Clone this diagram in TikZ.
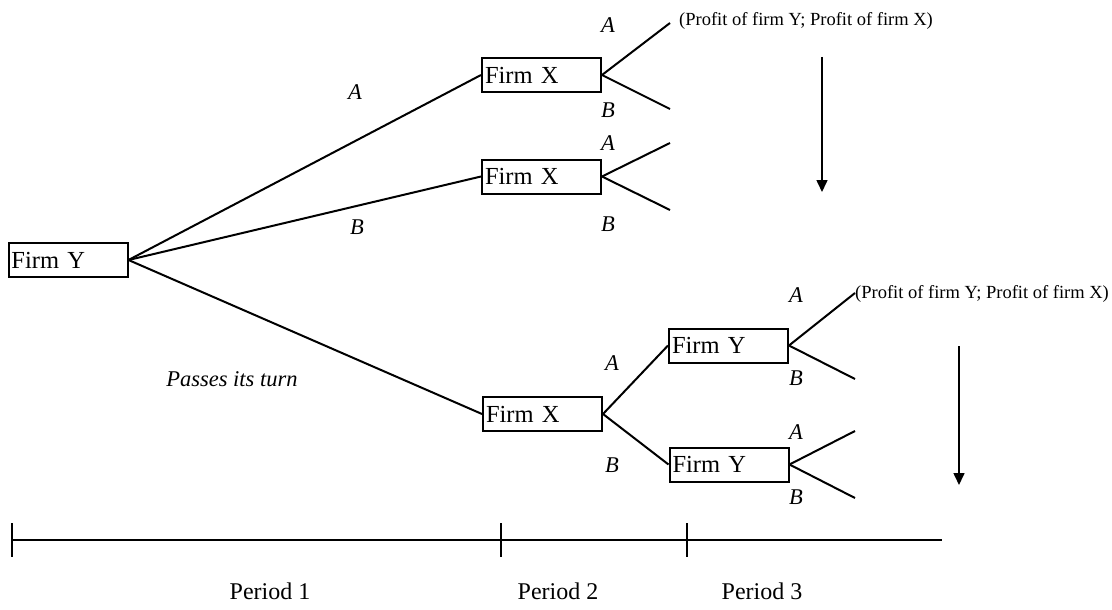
\documentclass[tikz,border=0pt]{standalone}
\usepackage{fontspec}
\setmainfont{Liberation Serif}
\usetikzlibrary{arrows.meta}
\begin{document}
\begin{tikzpicture}[x=1pt,y=-1pt,
  firm/.style={draw,line width=2pt,rectangle,minimum width=119pt,minimum height=34pt,
    text width=113pt,inner xsep=3pt,inner ysep=0pt,align=left,font=\fontsize{24.5}{27}\selectfont},
  edge/.style={line width=2pt},
  lab/.style={font=\fontsize{22.5}{24}\selectfont\itshape,inner sep=0pt},
  payoff/.style={font=\fontsize{18.5}{20}\selectfont,inner sep=0pt,anchor=west},
  period/.style={font=\fontsize{24}{26}\selectfont,inner sep=0pt},
  down/.style={line width=1.6pt,-{Triangle[length=12pt,width=11pt]}}]
\useasboundingbox (0,0) rectangle (1112,610);
% nodes
\node[firm] (Y0) at (68,260) {Firm Y};
\node[firm] (X1) at (541.5,75) {Firm X};
\node[firm] (X2) at (541.5,176.5) {Firm X};
\node[firm] (X3) at (542.5,414) {Firm X};
\node[firm] (Y4) at (728.5,345.5) {Firm Y};
\node[firm] (Y5) at (729,464.5) {Firm Y};
% branch ends
\coordinate (x1a) at (670,23);
\coordinate (x1b) at (670,109);
\coordinate (x2a) at (670,143);
\coordinate (x2b) at (670,210);
\coordinate (y4a) at (855,293);
\coordinate (y4b) at (855,379);
\coordinate (y5a) at (855,431);
\coordinate (y5b) at (855,498);
% connectors
\draw[edge] (Y0.east) -- (X1.west);
\draw[edge] (Y0.east) -- (X2.west);
\draw[edge] (Y0.east) -- (X3.west);
\draw[edge] (X1.east) -- (x1a);
\draw[edge] (X1.east) -- (x1b);
\draw[edge] (X2.east) -- (x2a);
\draw[edge] (X2.east) -- (x2b);
\draw[edge] (X3.east) -- (Y4.west);
\draw[edge] (X3.east) -- (Y5.west);
\draw[edge] (Y4.east) -- (y4a);
\draw[edge] (Y4.east) -- (y4b);
\draw[edge] (Y5.east) -- (y5a);
\draw[edge] (Y5.east) -- (y5b);
% labels
\node[lab] (lA0) at (355,92) {A};
\node[lab] (lB0) at (357,227) {B};
\node[lab] (lP) at (232,379) {Passes its turn};
\node[lab] (lA1) at (608,25) {A};
\node[lab] (lB1) at (608,110) {B};
\node[lab] (lA2) at (608,143) {A};
\node[lab] (lB2) at (608,224) {B};
\node[lab] (lA3) at (612,363) {A};
\node[lab] (lB3) at (612,465) {B};
\node[lab] (lA4) at (796,295) {A};
\node[lab] (lB4) at (796,378) {B};
\node[lab] (lA5) at (796,432) {A};
\node[lab] (lB5) at (796,497) {B};
% payoffs
\node[payoff] (p1) at (679,21) {(Profit of firm Y; Profit of firm X)};
\node[payoff] (p2) at (855,294) {(Profit of firm Y; Profit of firm X)};
% vertical arrows
\coordinate (a1s) at (822,57);
\coordinate (a1e) at (822,192);
\coordinate (a2s) at (959,346);
\coordinate (a2e) at (959,485);
\draw[down] (a1s) -- (a1e);
\draw[down] (a2s) -- (a2e);
% timeline
\coordinate (t0) at (12,540);
\coordinate (t1) at (501,540);
\coordinate (t2) at (687,540);
\coordinate (t3) at (942,540);
\draw[edge] (t0) -- (t3);
\foreach \t in {t0,t1,t2} \draw[line width=1.4pt] ([yshift=17pt]\t) -- ([yshift=-17pt]\t);
\node[period] (P1) at (270,591) {Period 1};
\node[period] (P2) at (558,591) {Period 2};
\node[period] (P3) at (762,591) {Period 3};
\end{tikzpicture}
\end{document}
